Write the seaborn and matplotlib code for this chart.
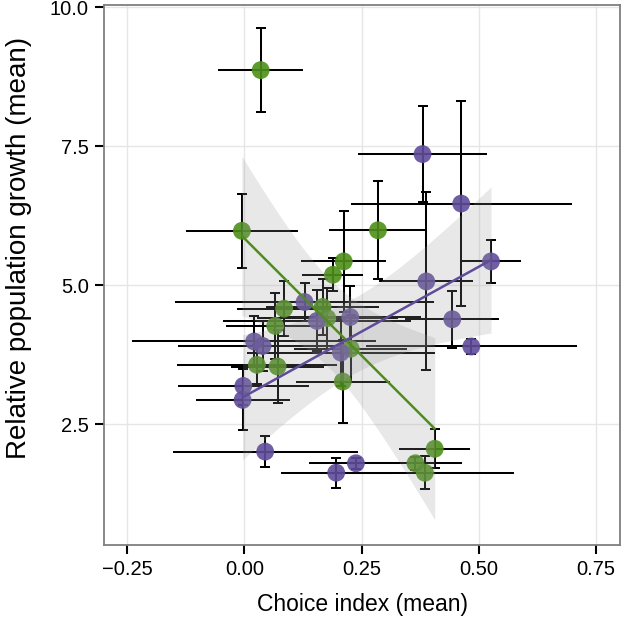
import numpy as np
import pandas as pd
import matplotlib
matplotlib.use("Agg")
import matplotlib.pyplot as plt
import seaborn as sns

# ---- data ----
green_x = [0.035, -0.005, 0.285, 0.212, 0.189, 0.085, 0.167, 0.177, 0.066, 0.027, 0.071, 0.227, 0.210, 0.365, 0.385, 0.406]
green_y = [8.87, 5.98, 5.99, 5.43, 5.19, 4.58, 4.61, 4.41, 4.27, 3.57, 3.54, 3.86, 3.27, 1.80, 1.63, 2.06]
green_xerr = [0.090, 0.120, 0.105, 0.090, 0.065, 0.100, 0.120, 0.150, 0.105, 0.170, 0.100, 0.120, 0.100, 0.100, 0.190, 0.076]
green_yerr = [0.76, 0.66, 0.88, 0.91, 0.30, 0.50, 0.50, 0.55, 0.60, 0.35, 0.65, 0.60, 0.75, 0.12, 0.30, 0.35]

purple_x = [0.380, 0.4625, 0.388, 0.526, 0.1285, 0.155, 0.226, 0.4435, 0.484, 0.021, 0.039, 0.206, -0.002, -0.0035, 0.0445, 0.238, 0.196]
purple_y = [7.36, 6.47, 5.07, 5.43, 4.70, 4.36, 4.43, 4.39, 3.90, 3.99, 3.91, 3.79, 3.19, 2.94, 2.01, 1.80, 1.63]
purple_xerr = [0.138, 0.236, 0.100, 0.064, 0.277, 0.200, 0.150, 0.100, 0.225, 0.260, 0.180, 0.200, 0.140, 0.100, 0.197, 0.100, 0.117]
purple_yerr = [0.87, 1.84, 1.60, 0.39, 0.35, 0.55, 0.56, 0.51, 0.13, 0.45, 0.45, 0.60, 0.35, 0.55, 0.28, 0.10, 0.27]

groups = ["green", "purple"]
colors = {"green": "#4d8f1a", "purple": "#5f4c9a"}

x_ticks = [-0.25, 0.00, 0.25, 0.50, 0.75]
x_ticklabels = ["\u22120.25", "0.00", "0.25", "0.50", "0.75"]
y_ticks = [2.5, 5.0, 7.5, 10.0]
y_ticklabels = ["2.5", "5.0", "7.5", "10.0"]

df = pd.concat([
    pd.DataFrame({"x": green_x, "y": green_y, "xerr": green_xerr, "yerr": green_yerr, "group": "green"}),
    pd.DataFrame({"x": purple_x, "y": purple_y, "xerr": purple_xerr, "yerr": purple_yerr, "group": "purple"}),
], ignore_index=True)

# ---- style ----
sns.set_theme(style="white")
plt.rcParams["font.family"] = ["Liberation Sans", "DejaVu Sans"]

fig = plt.figure(figsize=(6.22, 6.17), dpi=100)
ax = fig.add_axes([0.1672, 0.1167, 0.8296, 0.876])

# error bars
ax.errorbar(df["x"], df["y"], yerr=df["yerr"], fmt="none", ecolor="black",
            elinewidth=1.45, capsize=3.3, capthick=1.45, zorder=2)
ax.errorbar(df["x"], df["y"], xerr=df["xerr"], fmt="none", ecolor="black",
            elinewidth=1.45, capsize=0, zorder=2)

# points
sns.scatterplot(data=df, x="x", y="y", hue="group", palette=colors, s=165,
                alpha=0.9, edgecolor="none", legend=False, ax=ax, zorder=3)

# linear fits with 95% confidence bands
for g in groups:
    sub = df[df["group"] == g]
    xv = sub["x"].to_numpy()
    yv = sub["y"].to_numpy()
    n = len(xv)
    b1, b0 = np.polyfit(xv, yv, 1)
    grid = np.linspace(xv.min(), xv.max(), 100)
    fit = b0 + b1 * grid
    resid = yv - (b0 + b1 * xv)
    s = np.sqrt(np.sum(resid ** 2) / (n - 2))
    sxx = np.sum((xv - xv.mean()) ** 2)
    se = s * np.sqrt(1.0 / n + (grid - xv.mean()) ** 2 / sxx)
    tval = {14: 2.145, 15: 2.131}.get(n - 2, 2.13)
    ax.fill_between(grid, fit - tval * se, fit + tval * se, color="#999999",
                    alpha=0.22, linewidth=0, zorder=4)
    sns.lineplot(x=grid, y=fit, color=colors[g], linewidth=1.8, ax=ax, zorder=5)

# axes
ax.set_xlim(-0.299, 0.801)
ax.set_ylim(0.33, 10.05)
ax.set_xticks(x_ticks)
ax.set_xticklabels(x_ticklabels)
ax.set_yticks(y_ticks)
ax.set_yticklabels(y_ticklabels)
ax.grid(True, color="#e6e6e6", linewidth=1.0, zorder=0)
ax.set_axisbelow(True)
for sp in ax.spines.values():
    sp.set_color("#7f7f7f")
    sp.set_linewidth(1.3)
ax.tick_params(axis="both", direction="out", length=6.5, width=1.5, color="black",
               labelsize=14.5, labelcolor="black", pad=4.5, bottom=True, left=True)
ax.set_xlabel("Choice index (mean)", fontsize=16.5, color="black")
ax.set_ylabel("Relative population growth (mean)", fontsize=20, color="black")
ax.xaxis.set_label_coords(0.5, -0.088)
ax.yaxis.set_label_coords(-0.14, 0.55)

fig.savefig("out.png", dpi=100)
